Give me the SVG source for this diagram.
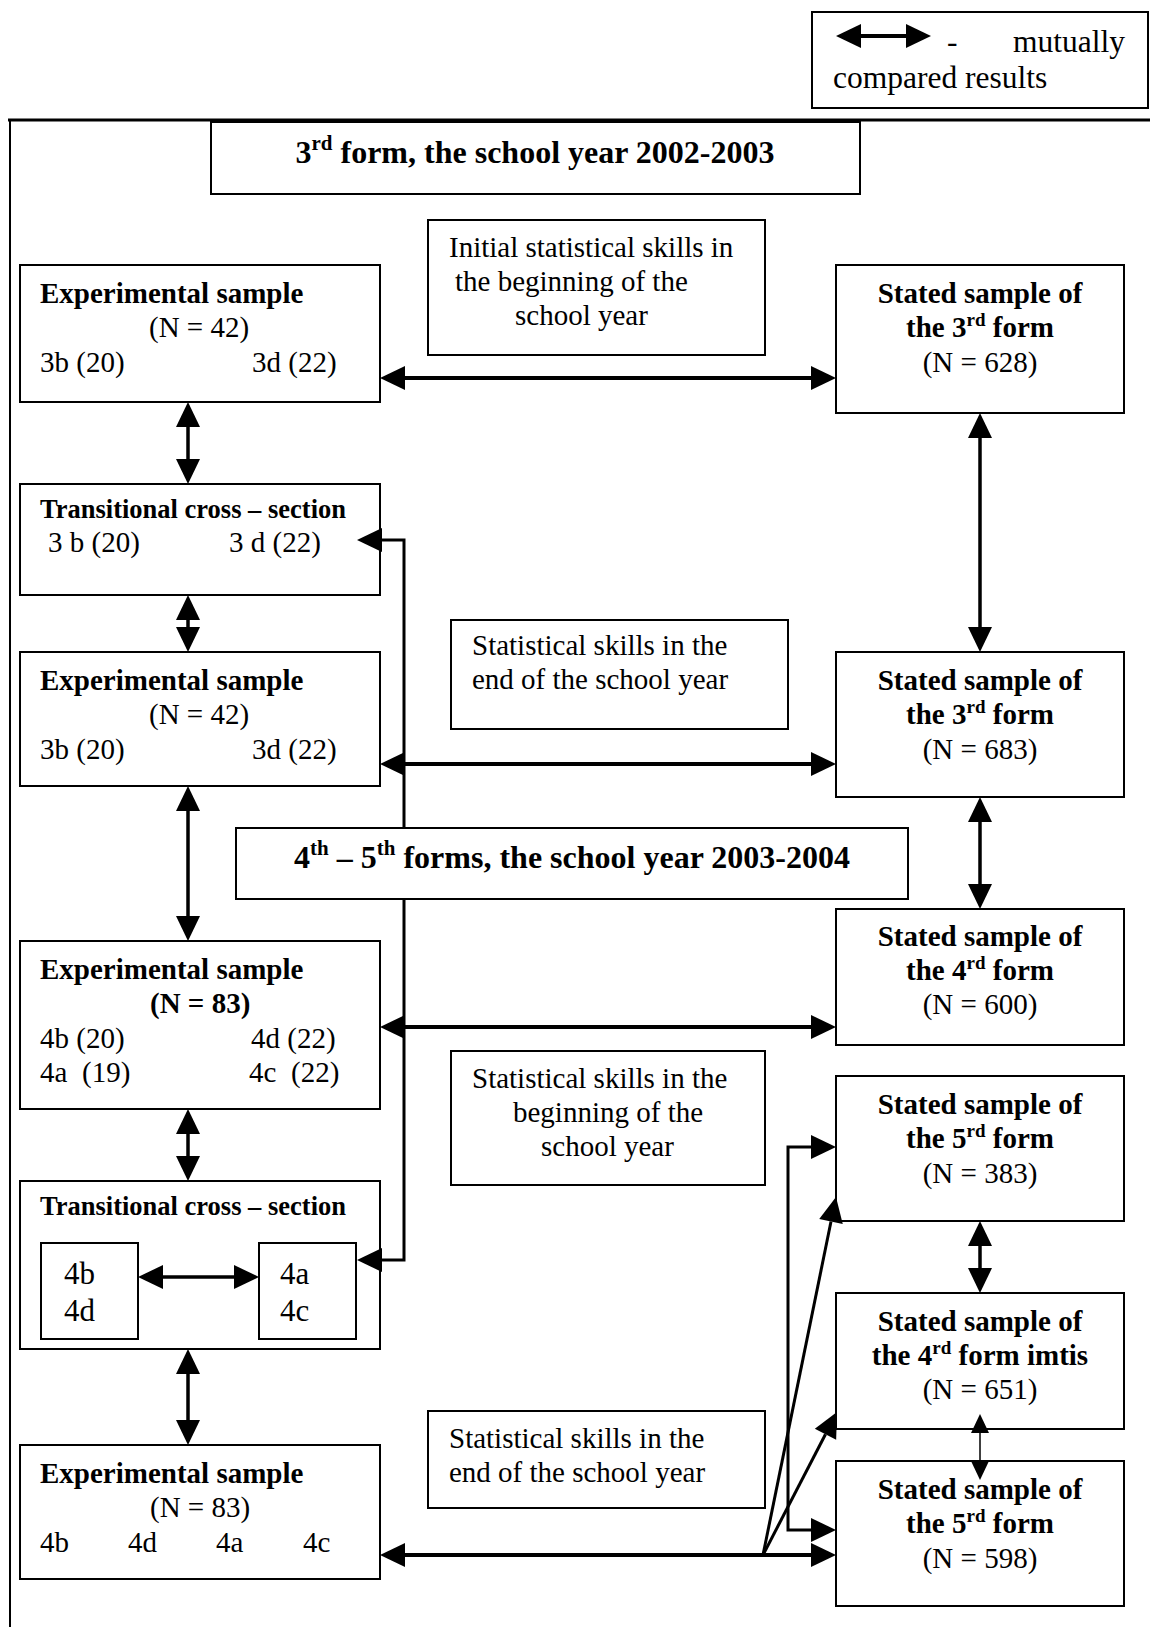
<svg xmlns="http://www.w3.org/2000/svg" width="1150" height="1627" viewBox="0 0 1150 1627">
<style>
.box{fill:#fff;stroke:#000;stroke-width:2}
.t{font-family:"Liberation Serif","Times New Roman",serif;font-size:29px;fill:#000}
.b{font-weight:bold}
.c{text-anchor:middle}
.title{font-size:32px}
.sm{font-size:26.5px}
.lg{font-size:31.5px}
.big{font-size:31px}
.con{fill:none;stroke:#000;stroke-width:3.5}
.thick{stroke-width:4}
.med{stroke-width:3}
.thin{stroke-width:1.5}
</style>
<defs>
<marker id="ah" markerUnits="userSpaceOnUse" markerWidth="26" markerHeight="26" refX="0" refY="12" orient="auto-start-reverse" overflow="visible">
<path d="M0,0 L25,12 L0,24 Z" fill="#000"/>
</marker>
<marker id="ahs" markerUnits="userSpaceOnUse" markerWidth="20" markerHeight="20" refX="0" refY="9" orient="auto-start-reverse" overflow="visible">
<path d="M0,0 L19,9 L0,18 Z" fill="#000"/>
</marker>
</defs>
<rect width="1150" height="1627" fill="#fff"/>

<g id="frame">
<line x1="8" y1="120" x2="1150" y2="120" stroke="#000" stroke-width="3"/>
<line x1="10" y1="119" x2="10" y2="1627" stroke="#000" stroke-width="2"/>
</g>

<g id="legend">
<rect class="box" x="812" y="12" width="336" height="96"/>
<path class="con thick" d="M861,36 H906" marker-start="url(#ah)" marker-end="url(#ah)"/>
<text class="t lg" x="947" y="52">-</text>
<text class="t lg" x="1013" y="52">mutually</text>
<text class="t lg" x="833" y="88">compared results</text>
</g>

<g id="title1">
<rect class="box" x="211" y="122" width="649" height="72"/>
<text class="t b title c" x="535" y="163">3<tspan dy="-13" font-size="21">rd</tspan><tspan dy="13"> form, the school year 2002-2003</tspan></text>
</g>

<g id="initial-skills">
<rect class="box" x="428" y="220" width="337" height="135"/>
<text class="t" x="449" y="257">Initial statistical skills in</text>
<text class="t" x="455" y="291">the beginning of the</text>
<text class="t" x="515" y="325">school year</text>
</g>

<g id="exp1">
<rect class="box" x="20" y="265" width="360" height="137"/>
<text class="t b" x="40" y="303">Experimental sample</text>
<text class="t" x="149" y="337">(N = 42)</text>
<text class="t" x="40" y="372">3b (20)</text>
<text class="t" x="252" y="372">3d (22)</text>
</g>

<g id="stated628">
<rect class="box" x="836" y="265" width="288" height="148"/>
<text class="t b c" x="980" y="303">Stated sample of</text>
<text class="t b c" x="980" y="337">the 3<tspan dy="-11" font-size="19">rd</tspan><tspan dy="11"> form</tspan></text>
<text class="t c" x="980" y="372">(N = 628)</text>
</g>

<g id="trans1">
<rect class="box" x="20" y="484" width="360" height="111"/>
<text class="t b sm" x="40" y="518">Transitional cross – section</text>
<text class="t" x="48" y="552">3 b (20)</text>
<text class="t" x="229" y="552">3 d (22)</text>
</g>

<g id="end-skills1">
<rect class="box" x="451" y="620" width="337" height="109"/>
<text class="t" x="472" y="655">Statistical skills in the</text>
<text class="t" x="472" y="689">end of the school year</text>
</g>

<g id="exp2">
<rect class="box" x="20" y="652" width="360" height="134"/>
<text class="t b" x="40" y="690">Experimental sample</text>
<text class="t" x="149" y="724">(N = 42)</text>
<text class="t" x="40" y="759">3b (20)</text>
<text class="t" x="252" y="759">3d (22)</text>
</g>

<g id="stated683">
<rect class="box" x="836" y="652" width="288" height="145"/>
<text class="t b c" x="980" y="690">Stated sample of</text>
<text class="t b c" x="980" y="724">the 3<tspan dy="-11" font-size="19">rd</tspan><tspan dy="11"> form</tspan></text>
<text class="t c" x="980" y="759">(N = 683)</text>
</g>

<g id="exp3">
<rect class="box" x="20" y="941" width="360" height="168"/>
<text class="t b" x="40" y="979">Experimental sample</text>
<text class="t b" x="150" y="1013">(N = 83)</text>
<text class="t" x="40" y="1048">4b (20)</text>
<text class="t" x="251" y="1048">4d (22)</text>
<text class="t" x="40" y="1082">4a</text>
<text class="t" x="82" y="1082">(19)</text>
<text class="t" x="249" y="1082">4c</text>
<text class="t" x="291" y="1082">(22)</text>
</g>

<g id="stated600">
<rect class="box" x="836" y="909" width="288" height="136"/>
<text class="t b c" x="980" y="946">Stated sample of</text>
<text class="t b c" x="980" y="980">the 4<tspan dy="-11" font-size="19">rd</tspan><tspan dy="11"> form</tspan></text>
<text class="t c" x="980" y="1014">(N = 600)</text>
</g>

<g id="begin-skills2">
<rect class="box" x="451" y="1051" width="314" height="134"/>
<text class="t" x="472" y="1088">Statistical skills in the</text>
<text class="t" x="513" y="1122">beginning of the</text>
<text class="t" x="541" y="1156">school year</text>
</g>

<g id="stated383">
<rect class="box" x="836" y="1076" width="288" height="145"/>
<text class="t b c" x="980" y="1114">Stated sample of</text>
<text class="t b c" x="980" y="1148">the 5<tspan dy="-11" font-size="19">rd</tspan><tspan dy="11"> form</tspan></text>
<text class="t c" x="980" y="1183">(N = 383)</text>
</g>

<g id="trans2">
<rect class="box" x="20" y="1181" width="360" height="168"/>
<text class="t b sm" x="40" y="1215">Transitional cross – section</text>
<rect class="box" x="41" y="1243" width="97" height="96"/>
<rect class="box" x="259" y="1243" width="97" height="96"/>
<text class="t big" x="64" y="1284">4b</text>
<text class="t big" x="64" y="1321">4d</text>
<text class="t big" x="280" y="1284">4a</text>
<text class="t big" x="280" y="1321">4c</text>
</g>

<g id="stated651">
<rect class="box" x="836" y="1293" width="288" height="136"/>
<text class="t b c" x="980" y="1331">Stated sample of</text>
<text class="t b c" x="980" y="1365">the 4<tspan dy="-11" font-size="19">rd</tspan><tspan dy="11"> form imtis</tspan></text>
<text class="t c" x="980" y="1399">(N = 651)</text>
</g>

<g id="end-skills2">
<rect class="box" x="428" y="1411" width="337" height="97"/>
<text class="t" x="449" y="1448">Statistical skills in the</text>
<text class="t" x="449" y="1482">end of the school year</text>
</g>

<g id="exp4">
<rect class="box" x="20" y="1445" width="360" height="134"/>
<text class="t b" x="40" y="1483">Experimental sample</text>
<text class="t" x="150" y="1517">(N = 83)</text>
<text class="t" x="40" y="1552">4b</text>
<text class="t" x="128" y="1552">4d</text>
<text class="t" x="216" y="1552">4a</text>
<text class="t" x="303" y="1552">4c</text>
</g>

<g id="stated598">
<rect class="box" x="836" y="1461" width="288" height="145"/>
<text class="t b c" x="980" y="1499">Stated sample of</text>
<text class="t b c" x="980" y="1533">the 5<tspan dy="-11" font-size="19">rd</tspan><tspan dy="11"> form</tspan></text>
<text class="t c" x="980" y="1568">(N = 598)</text>
</g>

<g id="connectors">
<path class="con thick" d="M405,378 H811" marker-start="url(#ah)" marker-end="url(#ah)"/>
<path class="con" d="M188,427 V459" marker-start="url(#ah)" marker-end="url(#ah)"/>
<path class="con" d="M980,438 V627" marker-start="url(#ah)" marker-end="url(#ah)"/>
<path class="con" d="M188,620 V627" marker-start="url(#ah)" marker-end="url(#ah)"/>
<path class="con thick" d="M405,764 H811" marker-start="url(#ah)" marker-end="url(#ah)"/>
<path class="con med" d="M382,540 H404 V1260 H382" marker-start="url(#ah)" marker-end="url(#ah)"/>
<path class="con" d="M188,811 V916" marker-start="url(#ah)" marker-end="url(#ah)"/>
<path class="con" d="M980,822 V884" marker-start="url(#ah)" marker-end="url(#ah)"/>
<path class="con thick" d="M405,1027 H811" marker-start="url(#ah)" marker-end="url(#ah)"/>
<path class="con" d="M188,1134 V1156" marker-start="url(#ah)" marker-end="url(#ah)"/>
<path class="con" d="M980,1246 V1268" marker-start="url(#ah)" marker-end="url(#ah)"/>
<path class="con" d="M163,1277 H234" marker-start="url(#ah)" marker-end="url(#ah)"/>
<path class="con" d="M188,1374 V1420" marker-start="url(#ah)" marker-end="url(#ah)"/>
<path class="con thin" d="M980,1433 V1461" marker-start="url(#ahs)" marker-end="url(#ahs)"/>
<path class="con thick" d="M405,1555 H811" marker-start="url(#ah)" marker-end="url(#ah)"/>
<path class="con med" d="M763,1555 L831,1221.5" marker-end="url(#ah)"/>
<path class="con med" d="M763,1555 L825.5,1434.2" marker-end="url(#ah)"/>
<path class="con med" d="M811,1147 H788 V1530 H811" marker-start="url(#ah)" marker-end="url(#ah)"/>
</g>

<g id="title2">
<rect class="box" x="236" y="828" width="672" height="71"/>
<text class="t b title c" x="572" y="868">4<tspan dy="-13" font-size="21">th</tspan><tspan dy="13"> – 5</tspan><tspan dy="-13" font-size="21">th</tspan><tspan dy="13"> forms, the school year 2003-2004</tspan></text>
</g>
</svg>
